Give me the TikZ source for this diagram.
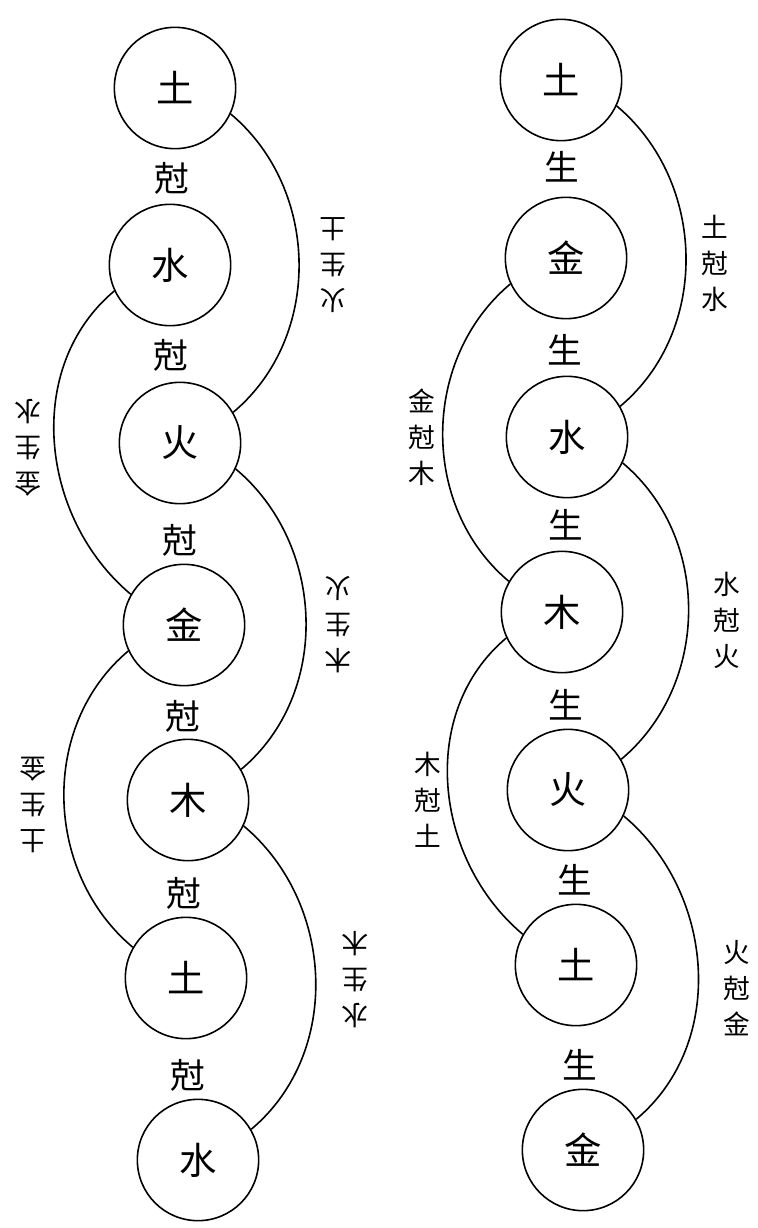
\documentclass[tikz,border=0pt]{standalone}
\usepackage{fontspec}
\newfontfamily\cjk{Noto Sans CJK TC}
\begin{document}
\begin{tikzpicture}[x=0.75pt,y=-0.75pt,
  elem/.style={circle,draw,line width=1.2pt,minimum size=91pt,inner sep=0pt,font=\cjk\fontsize{28}{30}\selectfont},
  rel/.style={font=\cjk\fontsize{26}{28}\selectfont,inner sep=1pt},
  side/.style={font=\cjk\fontsize{20}{27}\selectfont,align=center,inner sep=1pt},
  flip/.style={side,rotate=180},
  arc/.style={line width=1.2pt}]
\useasboundingbox[fill=white] (0,0) rectangle (757,1228);
% left column
\node[elem] (l1) at (175,88) {土};
\node[elem] (l2) at (170,265) {水};
\node[elem] (l3) at (180,443) {火};
\node[elem] (l4) at (184,625) {金};
\node[elem] (l5) at (188,800) {木};
\node[elem] (l6) at (186,978) {土};
\node[elem] (l7) at (198,1160) {水};
\node[rel] (lk1) at (172,178) {尅};
\node[rel] (lk2) at (171,355) {尅};
\node[rel] (lk3) at (180,540) {尅};
\node[rel] (lk4) at (183,716) {尅};
\node[rel] (lk5) at (184,893) {尅};
\node[rel] (lk6) at (188,1075) {尅};
\draw[arc] (l1.-25) to[out=-40,in=40] (l3.30);
\draw[arc] (l2.-155) to[out=-140,in=140] (l4.150);
\draw[arc] (l3.-25) to[out=-40,in=40] (l5.30);
\draw[arc] (l4.-155) to[out=-140,in=140] (l6.150);
\draw[arc] (l5.-25) to[out=-40,in=40] (l7.30);
\node[flip] (la1) at (333,265) {火\\生\\土};
\node[flip] (la2) at (28,448) {金\\生\\水};
\node[flip] (la3) at (338,625) {木\\生\\火};
\node[flip] (la4) at (33,805) {土\\生\\金};
\node[flip] (la5) at (355,980) {水\\生\\木};
% right column
\node[elem] (r1) at (561,80) {土};
\node[elem] (r2) at (566,258) {金};
\node[elem] (r3) at (567,437) {水};
\node[elem] (r4) at (562,612) {木};
\node[elem] (r5) at (568,790) {火};
\node[elem] (r6) at (576,965) {土};
\node[elem] (r7) at (583,1150) {金};
\node[rel] (rs1) at (562,167) {生};
\node[rel] (rs2) at (565,350) {生};
\node[rel] (rs3) at (566,525) {生};
\node[rel] (rs4) at (566,705) {生};
\node[rel] (rs5) at (575,880) {生};
\node[rel] (rs6) at (580,1065) {生};
\draw[arc] (r1.-25) to[out=-40,in=40] (r3.30);
\draw[arc] (r2.-155) to[out=-140,in=140] (r4.150);
\draw[arc] (r3.-25) to[out=-40,in=40] (r5.30);
\draw[arc] (r4.-155) to[out=-140,in=140] (r6.150);
\draw[arc] (r5.-25) to[out=-40,in=40] (r7.30);
\node[side] (ra1) at (715,263) {土\\尅\\水};
\node[side] (ra2) at (422,437) {金\\尅\\木};
\node[side] (ra3) at (727,620) {水\\尅\\火};
\node[side] (ra4) at (428,800) {木\\尅\\土};
\node[side] (ra5) at (737,988) {火\\尅\\金};
\end{tikzpicture}
\end{document}
